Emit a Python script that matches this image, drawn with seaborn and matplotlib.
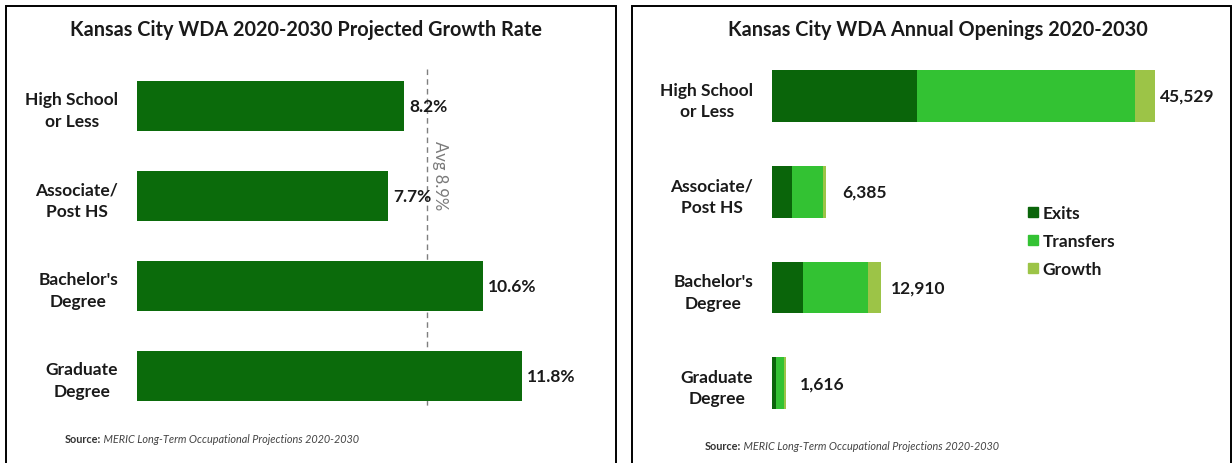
import matplotlib
matplotlib.use("Agg")
import matplotlib.pyplot as plt
import seaborn as sns
import pandas as pd
from matplotlib.patches import Rectangle
from matplotlib.lines import Line2D

# ---- data -------------------------------------------------------------
education = ["High School\nor Less", "Associate/\nPost HS",
             "Bachelor's\nDegree", "Graduate\nDegree"]
growth_rate = [8.2, 7.7, 10.6, 11.8]          # projected growth, %
avg_growth_rate = 8.9

exits = [17250, 2400, 3700, 500]               # annual openings by source
transfers = [25900, 3700, 7760, 980]
growth = [2379, 285, 1450, 136]

source_label = "Source:"
source_text = " MERIC Long-Term Occupational Projections 2020-2030"

# ---- style ------------------------------------------------------------
sns.set_style("white")
plt.rcParams["font.family"] = ["Lato", "DejaVu Sans"]

DARK = "#0b6b0b"
EXITS = "#0a650a"
TRANSFERS = "#33c233"
GROWTH = "#9cc447"
TEXT = "#1a1a1a"

W, H = 1232, 464
fig = plt.figure(figsize=(W / 100, H / 100), dpi=100)
fig.patch.set_facecolor("white")


def rect(x0, y0, x1, y1):
    """Pixel box (top-left origin) -> figure fraction rect."""
    return [x0 / W, 1 - y1 / H, (x1 - x0) / W, (y1 - y0) / H]


# panel frames
for x0, x1 in [(6, 616), (632, 1231)]:
    fig.add_artist(Rectangle((x0 / W, -0.1), (x1 - x0) / W, 1.1 - 7 / H,
                             transform=fig.transFigure, fill=False,
                             edgecolor="black", linewidth=1.4))


def style_axis(ax):
    sns.despine(ax=ax, left=True, bottom=True)
    ax.set_xticks([])
    ax.set_xlabel("")
    ax.set_ylabel("")
    ax.tick_params(axis="y", length=0, pad=13.5)
    for t in ax.get_yticklabels():
        t.set_multialignment("center")
        t.set_linespacing(1.45)
        t.set_fontweight("bold")
        t.set_fontsize(12.5)
        t.set_color(TEXT)


# ---- left: projected growth rate -------------------------------------
df_rate = pd.DataFrame({"education": education, "rate": growth_rate})
ax1 = fig.add_axes(rect(137, 60, 600, 420))
sns.barplot(data=df_rate, x="rate", y="education", orient="h",
            color=DARK, saturation=1, width=0.56, linewidth=0,
            ax=ax1, zorder=2)
ax1.set_xlim(0, (600 - 137) / 32.6)
ax1.set_ylim(3.478, -0.522)
style_axis(ax1)

ax1.plot([avg_growth_rate, avg_growth_rate], [-0.41, 3.37],
         linestyle=(0, (4, 3)), color="#7f7f7f", linewidth=1, zorder=1)
ax1.annotate(f"Avg {avg_growth_rate}%", xy=(avg_growth_rate, 0.76),
             xytext=(9.5, 0), textcoords="offset points", rotation=-90,
             ha="center", va="center", fontsize=12, color="#7a7a7a")

for i, v in enumerate(growth_rate):
    ax1.annotate(f"{v}%", xy=(v, i), xytext=(3.5, 0), textcoords="offset points",
                 ha="left", va="center", fontsize=12.5, fontweight="bold",
                 color=TEXT, zorder=3)

fig.text(306 / W, 1 - 30 / H, "Kansas City WDA 2020-2030 Projected Growth Rate",
         ha="center", va="center", fontsize=14.3, fontweight="bold", color=TEXT)

# ---- right: annual openings (stacked) ---------------------------------
totals = [e + t + g for e, t, g in zip(exits, transfers, growth)]
exits_transfers = [e + t for e, t in zip(exits, transfers)]
df_open = pd.DataFrame({"education": education, "exits": exits,
                        "exits_transfers": exits_transfers, "total": totals})

ax2 = fig.add_axes(rect(772, 55, 1225, 425))
for col, c in [("total", GROWTH), ("exits_transfers", TRANSFERS), ("exits", EXITS)]:
    sns.barplot(data=df_open, x=col, y="education", orient="h", color=c,
                saturation=1, width=0.54, linewidth=0, ax=ax2, zorder=2)
ax2.set_xlim(0, 453 / 0.008412)
ax2.set_ylim(3.428, -0.439)
style_axis(ax2)

label_pad = [3.5, 12, 7.5, 10.5]
for i, (v, p) in enumerate(zip(totals, label_pad)):
    ax2.annotate(f"{v:,}", xy=(v, i), xytext=(p, 0), textcoords="offset points",
                 ha="left", va="center", fontsize=12.5, fontweight="bold",
                 color=TEXT, zorder=3)

handles = [Line2D([], [], marker="s", linestyle="none", markersize=7,
                  markerfacecolor=c, markeredgecolor=c)
           for c in (EXITS, TRANSFERS, GROWTH)]
fig.legend(handles, ["Exits", "Transfers", "Growth"], loc="upper left",
           bbox_to_anchor=(1013 / W, 1 - 190 / H), frameon=False,
           handlelength=0.5, handletextpad=0.3, labelspacing=0.7,
           prop={"weight": "bold", "size": 12.5}, labelcolor=TEXT)

fig.text(938 / W, 1 - 30 / H, "Kansas City WDA Annual Openings 2020-2030",
         ha="center", va="center", fontsize=14.3, fontweight="bold", color=TEXT)

# ---- source notes -----------------------------------------------------
for x, y in [(65, 440), (705, 447)]:
    s = fig.text(x / W, 1 - y / H, source_label, ha="left", va="center",
                 fontsize=7.8, fontweight="bold", color="#333333")
    ax1.annotate(source_text, xy=(1, 0.5), xycoords=s,
                 ha="left", va="center", fontsize=7.8,
                 style="italic", color="#444444", annotation_clip=False)

fig.savefig("out.png", dpi=100)
